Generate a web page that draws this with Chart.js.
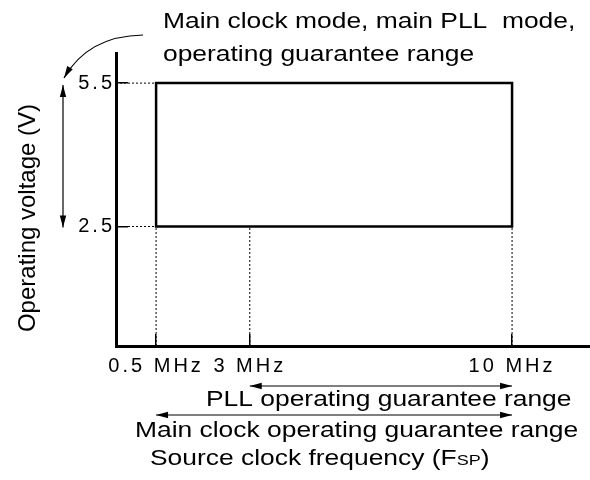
<!DOCTYPE html>
<html>
<head>
<meta charset="utf-8">
<script src="https://cdn.jsdelivr.net/npm/chart.js@4"></script>
<style>
  html, body { margin: 0; padding: 0; background: #fff; }
</style>
</head>
<body>
<canvas id="chart" width="590" height="480"></canvas>
<script>
'use strict';

const freqTicks = [0.5, 3, 10];
const freqLabels = ['0.5 MHz', '3 MHz', '10 MHz'];
const voltTicks = [2.5, 5.5];
const voltLabels = ['2.5', '5.5'];
const rangeFreq = [0.5, 0.5, 10, 10, 0.5];
const rangeVolt = [2.5, 5.5, 5.5, 2.5, 2.5];
const pllRange = [3, 10];
const mainRange = [0.5, 10];
const freqMin = -0.57, freqMax = 12.08;
const voltMin = 0, voltMax = 6.13;

const FONT = '"Liberation Sans", Arial, sans-serif';
const SX = 1.2; // the source text is a little wider than Arial

function guide(pts) {
    return {
        data: pts, showLine: true, borderColor: '#000', borderWidth: 1,
        borderDash: [2, 2], pointRadius: 0
    };
}

function wideText(ctx, s, x, y, size) {
    ctx.save();
    ctx.translate(x, y);
    ctx.scale(SX, 1);
    ctx.font = size + 'px ' + FONT;
    ctx.fillText(s, 0, 0);
    const w = ctx.measureText(s).width * SX;
    ctx.restore();
    return w;
}

function head(ctx, x, y, ang) {
    ctx.save();
    ctx.translate(x, y);
    ctx.rotate(ang);
    ctx.beginPath();
    ctx.moveTo(0, 0);
    ctx.lineTo(-12, -3.2);
    ctx.lineTo(-12, 3.2);
    ctx.closePath();
    ctx.fill();
    ctx.restore();
}

function doubleArrow(ctx, x1, y1, x2, y2) {
    const a = Math.atan2(y2 - y1, x2 - x1);
    ctx.beginPath();
    ctx.moveTo(x1, y1);
    ctx.lineTo(x2, y2);
    ctx.stroke();
    head(ctx, x2, y2, a);
    head(ctx, x1, y1, a + Math.PI);
}

const notes = {
    id: 'notes',
    beforeDraw(chart) { chart.ctx.letterSpacing = '0px'; },
    afterDatasetsDraw(chart) { chart.ctx.letterSpacing = '3px'; },
    afterDraw(chart) {
        const ctx = chart.ctx;
        const x = chart.scales.x, y = chart.scales.y;
        ctx.save();
        ctx.letterSpacing = '0px';
        ctx.fillStyle = '#000';
        ctx.strokeStyle = '#000';
        ctx.lineWidth = 1.2;
        ctx.textAlign = 'left';
        ctx.textBaseline = 'alphabetic';

        wideText(ctx, 'Main clock mode, main PLL  mode,', 163, 28, 22);
        wideText(ctx, 'operating guarantee range', 163, 61, 22);

        // curved pointer to the voltage range
        ctx.beginPath();
        ctx.moveTo(143, 35);
        ctx.quadraticCurveTo(88, 36, 64, 78);
        ctx.stroke();
        head(ctx, 64, 78, Math.atan2(78 - 36, 64 - 88));

        doubleArrow(ctx, 63, y.getPixelForValue(voltTicks[1]) + 2, 63, y.getPixelForValue(voltTicks[0]) + 1);

        doubleArrow(ctx, x.getPixelForValue(pllRange[0]), 386, x.getPixelForValue(pllRange[1]), 386);
        doubleArrow(ctx, x.getPixelForValue(mainRange[0]), 415, x.getPixelForValue(mainRange[1]), 415);

        wideText(ctx, 'PLL operating guarantee range', 206, 406, 22);
        wideText(ctx, 'Main clock operating guarantee range', 135, 437, 22);
        let cx = 150;
        cx += wideText(ctx, 'Source clock frequency (F', cx, 465, 22);
        cx += wideText(ctx, 'SP', cx, 465, 15);
        wideText(ctx, ')', cx, 465, 22);

        ctx.translate(28, 218);
        ctx.rotate(-Math.PI / 2);
        ctx.textAlign = 'center';
        ctx.textBaseline = 'middle';
        ctx.font = '24px ' + FONT;
        ctx.fillText('Operating voltage (V)', 0, 0);
        ctx.restore();
    }
};

const tickFont = { family: FONT, size: 20 };

new Chart(document.getElementById('chart'), {
    type: 'scatter',
    data: {
        datasets: [
            {
                data: rangeFreq.map((f, i) => ({ x: f, y: rangeVolt[i] })),
                showLine: true, borderColor: '#000', borderWidth: 2.5,
                borderJoinStyle: 'miter', borderCapStyle: 'square', pointRadius: 0
            },
            guide([{ x: freqMin, y: voltTicks[1] }, { x: freqTicks[0], y: voltTicks[1] }]),
            guide([{ x: freqMin, y: voltTicks[0] }, { x: freqTicks[0], y: voltTicks[0] }]),
            ...freqTicks.map(f => guide([{ x: f, y: voltMin }, { x: f, y: voltTicks[0] }]))
        ]
    },
    options: {
        responsive: false,
        animation: false,
        layout: { padding: { left: 0, top: 53, right: 0, bottom: 0 } },
        plugins: { legend: { display: false }, tooltip: { enabled: false } },
        scales: {
            x: {
                type: 'linear', min: freqMin, max: freqMax,
                afterBuildTicks: s => { s.ticks = freqTicks.map(v => ({ value: v })); },
                afterFit: s => { s.height = 134; },
                ticks: {
                    callback: (v, i) => freqLabels[i], font: tickFont, color: '#000',
                    padding: 20, maxRotation: 0, autoSkip: false, z: 1
                },
                grid: { drawOnChartArea: false, tickLength: -12, color: '#000', lineWidth: 1.5 },
                border: { color: '#000', width: 3 }
            },
            y: {
                type: 'linear', min: voltMin, max: voltMax,
                afterBuildTicks: s => { s.ticks = voltTicks.map(v => ({ value: v })); },
                afterFit: s => { s.width = 116; },
                ticks: {
                    callback: (v, i) => voltLabels[i], font: tickFont, color: '#000',
                    padding: 13, autoSkip: false, z: 1
                },
                grid: { drawOnChartArea: false, tickLength: -12, color: '#000', lineWidth: 1.5 },
                border: { color: '#000', width: 3 }
            }
        }
    },
    plugins: [notes]
});
</script>
</body>
</html>
